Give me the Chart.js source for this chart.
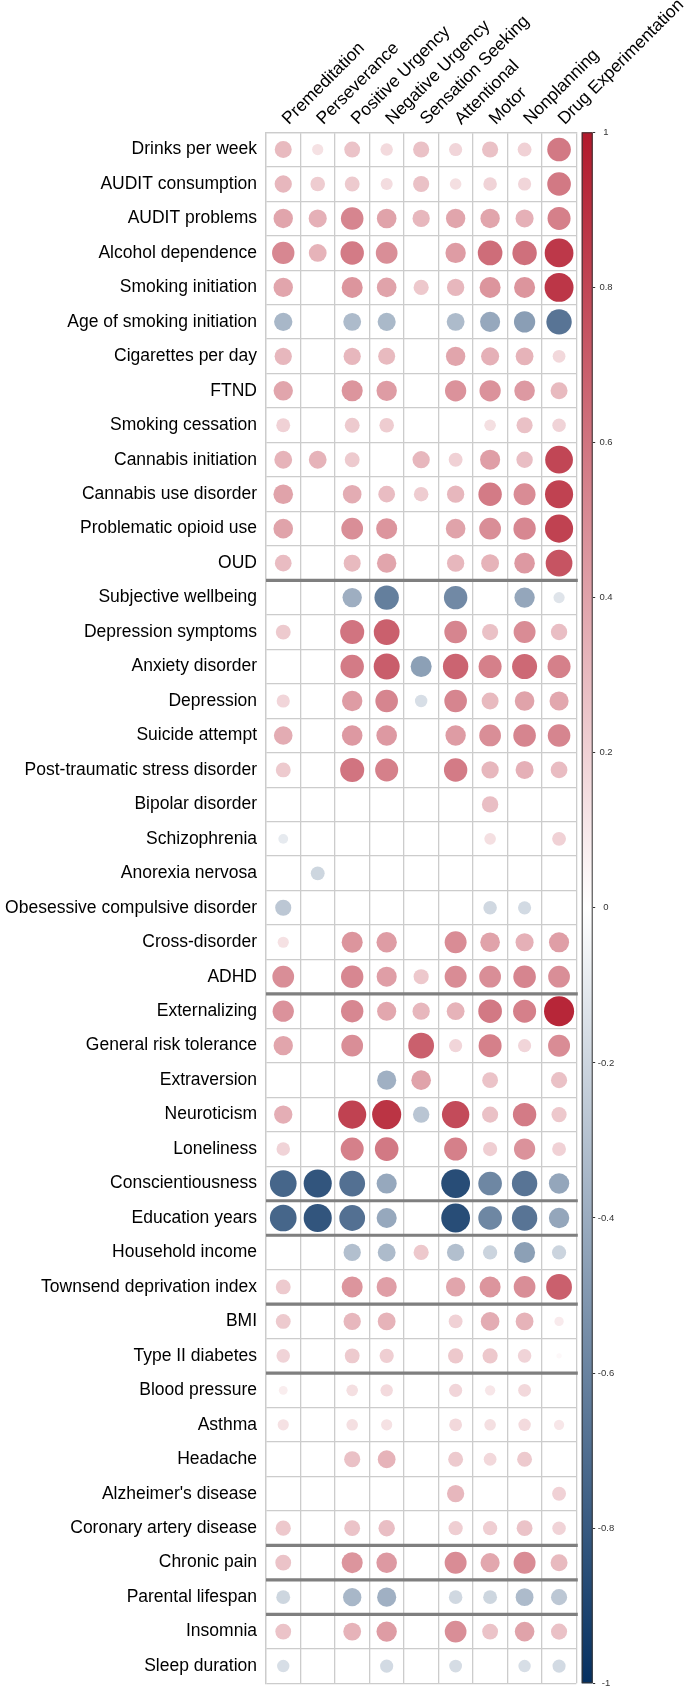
<!DOCTYPE html>
<html>
<head>
<meta charset="utf-8">
<script src="https://cdn.jsdelivr.net/npm/chart.js@4/dist/chart.umd.min.js"></script>
<style>
html,body{margin:0;padding:0;background:#fff;}
#wrap{width:685px;height:1687px;}
</style>
</head>
<body>
<div id="wrap"><canvas id="c" width="685" height="1687"></canvas></div>
<script>
// ---------- DATA ----------
const traits = [
  'Drinks per week','AUDIT consumption','AUDIT problems','Alcohol dependence','Smoking initiation',
  'Age of smoking initiation','Cigarettes per day','FTND','Smoking cessation','Cannabis initiation',
  'Cannabis use disorder','Problematic opioid use','OUD',
  'Subjective wellbeing','Depression symptoms','Anxiety disorder','Depression','Suicide attempt',
  'Post-traumatic stress disorder','Bipolar disorder','Schizophrenia','Anorexia nervosa',
  'Obesessive compulsive disorder','Cross-disorder','ADHD',
  'Externalizing','General risk tolerance','Extraversion','Neuroticism','Loneliness','Conscientiousness',
  'Education years','Household income','Townsend deprivation index',
  'BMI','Type II diabetes',
  'Blood pressure','Asthma','Headache',"Alzheimer's disease",'Coronary artery disease',
  'Chronic pain','Parental lifespan','Insomnia','Sleep duration'
];
const columns = ['Premeditation','Perseverance','Positive Urgency','Negative Urgency','Sensation Seeking',
  'Attentional','Motor','Nonplanning','Drug Experimentation'];

const premeditation = [0.30,0.31,0.39,0.52,0.39,-0.35,0.31,0.39,0.20,0.33,0.40,0.40,0.29,
  0,0.23,0,0.18,0.36,0.23,0,-0.10,0,-0.27,0.13,0.49,
  0.47,0.39,0,0.35,0.19,-0.74,-0.74,0,0.23,0.23,0.19,0.08,0.13,0,0,0.24,0.26,-0.20,0.26,-0.16];
const perseverance = [0.13,0.22,0.34,0.33,0,0,0,0,0,0.33,0,0,0,
  0,0,0,0,0,0,0,0,-0.20,0,0,0,
  0,0,0,0,0,-0.82,-0.82,0,0,0,0,0,0,0,0,0,0,0,0,0];
const positiveUrgency = [0.26,0.23,0.53,0.57,0.46,-0.33,0.31,0.46,0.23,0.23,0.36,0.49,0.30,
  -0.39,0.60,0.57,0.43,0.44,0.60,0,0,0,0,0.46,0.52,
  0.52,0.49,0,0.82,0.55,-0.69,-0.69,-0.31,0.46,0.31,0.23,0.14,0.14,0.27,0,0.26,0.46,-0.35,0.33,0];
const negativeUrgency = [0.16,0.15,0.40,0.49,0.40,-0.34,0.30,0.43,0.22,0,0.29,0.46,0.39,
  -0.62,0.69,0.70,0.53,0.44,0.55,0,0,0,0,0.43,0.42,
  0.38,0,-0.38,0.88,0.58,-0.42,-0.42,-0.33,0.42,0.33,0.21,0.16,0.13,0.33,0,0.28,0.44,-0.38,0.43,-0.18];
const sensationSeeking = [0.27,0.27,0.31,0,0.24,0,0,0,0,0.31,0.22,0,0,
  0,0,-0.46,-0.16,0,0,0,0,0,0,0,0.24,
  0.31,0.69,0.40,-0.28,0,0,0,0.24,0,0,0,0,0,0,0,0,0,0,0,0];
const attentional = [0.18,0.14,0.39,0.43,0.31,-0.33,0.39,0.47,0,0.20,0.31,0.40,0.31,
  -0.57,0.53,0.67,0.53,0.43,0.57,0,0,0,0,0.50,0.50,
  0.33,0.18,0,0.78,0.55,-0.86,-0.86,-0.31,0.39,0.20,0.24,0.18,0.17,0.23,0.31,0.21,0.50,-0.19,0.49,-0.17];
const motor = [0.27,0.19,0.39,0.63,0.46,-0.42,0.34,0.47,0.14,0.42,0.57,0.49,0.33,
  0,0.27,0.55,0.30,0.49,0.31,0.28,0.14,0,-0.19,0.40,0.49,
  0.58,0.55,0.26,0.27,0.21,-0.58,-0.58,-0.21,0.46,0.36,0.24,0.11,0.14,0.17,0,0.21,0.38,-0.20,0.26,0];
const nonplanning = [0.20,0.18,0.34,0.62,0.46,-0.47,0.33,0.44,0.27,0.28,0.50,0.52,0.44,
  -0.43,0.50,0.65,0.40,0.53,0.34,0,0,0,-0.18,0.34,0.53,
  0.55,0.18,0,0.57,0.47,-0.67,-0.67,-0.46,0.49,0.33,0.19,0.17,0.16,0.23,0,0.26,0.50,-0.33,0.40,-0.16];
const drugExperimentation = [0.58,0.58,0.55,0.86,0.87,-0.67,0.17,0.30,0.19,0.80,0.82,0.82,0.74,
  -0.13,0.28,0.55,0.38,0.53,0.29,0,0.20,0,0,0.42,0.49,
  0.94,0.50,0.27,0.24,0.20,-0.43,-0.43,-0.21,0.69,0.09,0.03,0,0.11,0,0.20,0.19,0.30,-0.27,0.27,-0.18];

const columnValues = [premeditation, perseverance, positiveUrgency, negativeUrgency, sensationSeeking,
  attentional, motor, nonplanning, drugExperimentation];

// thick separators are drawn below these rows
const separatorsAfter = ['OUD','ADHD','Conscientiousness','Education years','Townsend deprivation index',
  'Type II diabetes','Coronary artery disease','Chronic pain','Parental lifespan'];

const colorbarTicks = [1,0.8,0.6,0.4,0.2,0,-0.2,-0.4,-0.6,-0.8,-1];

// ---------- HELPERS ----------
const POS = [178,24,43], NEG = [5,48,97];
function colorFor(v){
  const t = Math.min(1, Math.abs(v));
  const end = v >= 0 ? POS : NEG;
  const c = end.map(e => Math.round(255 + (e - 255) * t));
  return 'rgb(' + c[0] + ',' + c[1] + ',' + c[2] + ')';
}

const points = [];
columns.forEach((col, j) => {
  traits.forEach((tr, i) => {
    points.push({x: col, y: tr, v: columnValues[j][i]});
  });
});

const FONT = '"Liberation Sans", Arial, Helvetica, sans-serif';

function cellRadius(ctx){
  if (!ctx.raw) return 0;
  const xs = ctx.chart.scales.x;
  if (!xs || !ctx.chart.chartArea) return 0;
  const cell = Math.abs(xs.getPixelForValue(1) - xs.getPixelForValue(0));
  return 0.45 * Math.sqrt(Math.abs(ctx.raw.v)) * cell;
}

const decor = {
  id: 'decor',
  afterLayout(chart){
    const cb = chart.scales.cb;
    const shift = 16.4;
    cb.left += shift; cb.right += shift;
  },
  beforeDatasetsDraw(chart){
    const {ctx, chartArea: a, scales: {y, cb}} = chart;
    const cell = Math.abs(y.getPixelForValue(1) - y.getPixelForValue(0));
    ctx.save();
    // separators
    ctx.strokeStyle = '#7f7f7f';
    ctx.lineWidth = 3.2;
    separatorsAfter.forEach(name => {
      const i = traits.indexOf(name);
      const py = y.getPixelForValue(i) + cell / 2;
      ctx.beginPath();
      ctx.moveTo(a.left, py);
      ctx.lineTo(a.right + 1.5, py);
      ctx.stroke();
    });
    // colour bar
    const top = cb.getPixelForValue(1), bot = cb.getPixelForValue(-1);
    const right = cb.left, left = right - 11;
    const g = ctx.createLinearGradient(0, top, 0, bot);
    g.addColorStop(0, colorFor(1));
    g.addColorStop(0.5, colorFor(0));
    g.addColorStop(1, colorFor(-1));
    ctx.fillStyle = g;
    ctx.fillRect(left, top, right - left, bot - top);
    ctx.strokeStyle = '#333';
    ctx.lineWidth = 1;
    ctx.strokeRect(left + 0.5, top + 0.5, right - left - 1, bot - top - 1);
    ctx.restore();
  }
};

new Chart(document.getElementById('c'), {
  type: 'scatter',
  data: {
    datasets: [{
      data: points,
      showLine: false,
      pointStyle: 'circle',
      pointBackgroundColor: ctx => ctx.raw ? colorFor(ctx.raw.v) : 'rgba(0,0,0,0)',
      pointBorderWidth: 0,
      pointHoverBorderWidth: 0,
      pointRadius: cellRadius,
      pointHoverRadius: cellRadius,
      pointHitRadius: 0
    }]
  },
  options: {
    responsive: false,
    animation: false,
    devicePixelRatio: 1,
    events: [],
    layout: {padding: {top: 0, left: 0, right: 68.7, bottom: 3.7}},
    plugins: {legend: {display: false}, tooltip: {enabled: false}},
    scales: {
      x: {
        type: 'category',
        labels: columns,
        position: 'top',
        offset: true,
        grid: {offset: true, color: '#cccccc', lineWidth: 1.3, drawTicks: false},
        border: {display: true, color: '#cccccc', width: 1.3},
        ticks: {
          autoSkip: false, minRotation: 45, maxRotation: 45, padding: 3, labelOffset: 17,
          color: '#000', font: {family: FONT, size: 17.5}
        },
        afterFit: s => { s.height = 132.3; s.paddingLeft = 0; s.paddingRight = 0; }
      },
      y: {
        type: 'category',
        labels: traits,
        position: 'left',
        offset: true,
        grid: {offset: true, color: '#cccccc', lineWidth: 1.3, drawTicks: false},
        border: {display: true, color: '#cccccc', width: 1.3},
        ticks: {autoSkip: false, padding: 9, color: '#000', font: {family: FONT, size: 17.5}},
        afterFit: s => { s.width = 266; s.paddingTop = 0; s.paddingBottom = 0; }
      },
      cb: {
        type: 'linear',
        axis: 'y',
        position: 'right',
        min: -1, max: 1,
        grid: {drawOnChartArea: false, drawTicks: true, tickLength: 2.5, color: '#333', lineWidth: 1},
        border: {display: false},
        afterBuildTicks: s => { s.ticks = colorbarTicks.map(v => ({value: v})); },
        ticks: {
          autoSkip: false, padding: 2.6, crossAlign: 'center', color: '#333',
          font: {family: FONT, size: 9.5},
          callback: v => String(v)
        },
        afterFit: s => { s.width = 40; s.paddingTop = 0; s.paddingBottom = 0; }
      }
    }
  },
  plugins: [decor]
});
</script>
</body>
</html>
